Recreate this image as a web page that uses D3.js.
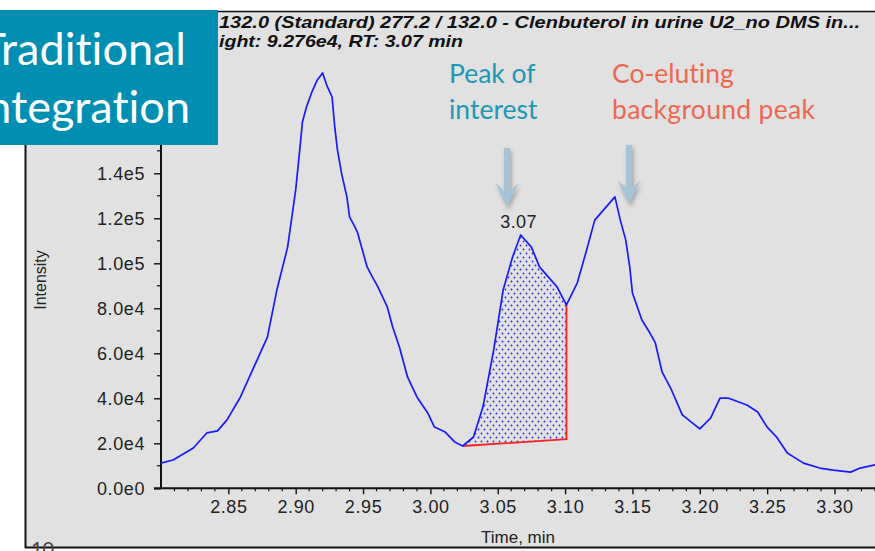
<!DOCTYPE html>
<html>
<head>
<meta charset="utf-8">
<script src="https://cdn.jsdelivr.net/npm/d3@7/dist/d3.min.js"></script>
<style>
  html, body { margin: 0; padding: 0; background: #ffffff; }
  svg { display: block; }
  text { font-variant-ligatures: none; font-feature-settings: "liga" 0, "clig" 0; }
</style>
</head>
<body>
<svg id="chart" width="875" height="551"></svg>
<script>
// Chromatogram of the 277.2 / 132.0 transition (retention time in minutes vs intensity)
const times = [
  2.800, 2.809, 2.824, 2.834, 2.842, 2.849, 2.859, 2.868, 2.879, 2.886,
  2.894, 2.900, 2.903, 2.905, 2.908, 2.912, 2.916, 2.920, 2.923, 2.927,
  2.929, 2.931, 2.934, 2.938, 2.940, 2.944, 2.946, 2.953, 2.957, 2.961,
  2.968, 2.972, 2.977, 2.983, 2.990, 2.998, 3.003, 3.011, 3.018, 3.024,
  3.032, 3.039, 3.047, 3.054, 3.061, 3.067, 3.075, 3.081, 3.094, 3.101,
  3.109, 3.116, 3.122, 3.137, 3.141, 3.145, 3.148, 3.150, 3.157, 3.163,
  3.167, 3.172, 3.179, 3.187, 3.200, 3.208, 3.215, 3.221, 3.235, 3.243,
  3.250, 3.257, 3.265, 3.277, 3.289, 3.299, 3.312, 3.319, 3.330, 3.345
];
const intensity = [
  11200, 12600, 17900, 24600, 25500, 30400, 40600, 52600, 67200, 88100,
  107200, 132600, 150400, 162800, 169500, 176100, 181500, 184600, 179200, 173900,
  160600, 150400, 140100, 129500, 120600, 116100, 113500, 98400, 93900, 89500,
  80600, 71700, 62800, 49500, 40600, 33500, 27200, 25000, 20600, 18800,
  22800, 36100, 61500, 88100, 102800, 112600, 107200, 98400, 89500, 81500,
  91200, 105900, 119200, 129500, 119200, 110400, 98400, 86800, 74800, 69000,
  64600, 51700, 43700, 32600, 26400, 31200, 40100, 40100, 37000, 33900,
  27200, 22800, 15700, 11200, 9000, 8100, 7200, 9000, 10400, 11000
];

// Integrated region of the peak of interest and its baseline
const integrationRange = [3.024, 3.101];
const baselineValues = [18800, 21800];
const apexTime = 3.067;
const apexLabel = "3.07";

// Axis ticks
const xTickValues = [2.85, 2.90, 2.95, 3.00, 3.05, 3.10, 3.15, 3.20, 3.25, 3.30];
const yTickValues = [0, 20000, 40000, 60000, 80000, 100000, 120000, 140000, 160000, 180000];

// Header text of the trace
const headerLines = [
  "132.0 (Standard) 277.2 / 132.0 - Clenbuterol in urine U2_no DMS in...",
  "ight: 9.276e4, RT: 3.07 min"
];

const data = times.map((t, i) => ({ t, v: intensity[i] }));

const svg = d3.select("#chart");
const axisFont = "'Liberation Sans', Arial, sans-serif";
const calloutFont = "Lato, 'Open Sans', sans-serif";

// Scales
const x = d3.scaleLinear().domain([2.80, 3.345]).range([161, 895.1]);
const y = d3.scaleLinear().domain([0, 200000]).range([488.3, 38.3]);

// Panel background
svg.append("rect")
  .attr("x", 25).attr("y", 11).attr("width", 870).attr("height", 536)
  .attr("fill", "#e1e1e1");
svg.append("line").attr("x1", 25).attr("x2", 875).attr("y1", 11.5).attr("y2", 11.5)
  .attr("stroke", "#111").attr("stroke-width", 1.5);
svg.append("line").attr("x1", 25.5).attr("x2", 25.5).attr("y1", 11).attr("y2", 548)
  .attr("stroke", "#111").attr("stroke-width", 2);
svg.append("line").attr("x1", 25).attr("x2", 875).attr("y1", 547.5).attr("y2", 547.5)
  .attr("stroke", "#111").attr("stroke-width", 2);

// Header lines
svg.append("text")
  .attr("x", 219).attr("y", 28)
  .attr("font-family", axisFont).attr("font-size", 17)
  .attr("font-weight", "bold").attr("font-style", "italic")
  .attr("fill", "#111")
  .attr("textLength", 641).attr("lengthAdjust", "spacingAndGlyphs")
  .text(headerLines[0]);
svg.append("text")
  .attr("x", 219).attr("y", 47)
  .attr("font-family", axisFont).attr("font-size", 17)
  .attr("font-weight", "bold").attr("font-style", "italic")
  .attr("fill", "#111")
  .attr("textLength", 244).attr("lengthAdjust", "spacingAndGlyphs")
  .text(headerLines[1]);

// Dotted fill pattern for the integrated area
const defs = svg.append("defs");
const pat = defs.append("pattern")
  .attr("id", "dots").attr("patternUnits", "userSpaceOnUse")
  .attr("width", 6).attr("height", 8);
pat.append("circle").attr("cx", 1.5).attr("cy", 1.5).attr("r", 0.9).attr("fill", "#2a2aff");
pat.append("circle").attr("cx", 4.5).attr("cy", 5.5).attr("r", 0.9).attr("fill", "#2a2aff");

const shadow = defs.append("filter").attr("id", "shadow")
  .attr("x", "-50%").attr("y", "-20%").attr("width", "200%").attr("height", "150%");
shadow.append("feDropShadow")
  .attr("dx", 1.5).attr("dy", 3).attr("stdDeviation", 2)
  .attr("flood-color", "#555").attr("flood-opacity", 0.45);

// Integrated area: curve between the limits, closed by the baseline
const inRange = data.filter(d => d.t >= integrationRange[0] && d.t <= integrationRange[1]);
const baseAt = t => baselineValues[0] +
  (baselineValues[1] - baselineValues[0]) * (t - integrationRange[0]) / (integrationRange[1] - integrationRange[0]);
svg.append("path")
  .datum(inRange)
  .attr("d", d3.area()
    .x(d => x(d.t))
    .y0(d => y(baseAt(d.t)))
    .y1(d => y(d.v)))
  .attr("fill", "url(#dots)");

// Axes (ticks and labels)
const sciFormat = v => {
  if (v === 0) return "0.0e0";
  const e = Math.floor(Math.log10(v));
  return (v / Math.pow(10, e)).toFixed(1) + "e" + e;
};

const gx = svg.append("g").attr("transform", "translate(0,488.3)");
gx.call(d3.axisBottom(x).tickValues(xTickValues).tickFormat(d3.format(".2f"))
  .tickSize(6).tickPadding(6).tickSizeOuter(0));
const xMinor = d3.range(281, 335).map(v => v / 100).filter(v => Math.round(v * 100) % 5 !== 0);
gx.append("g").selectAll("line").data(xMinor).join("line")
  .attr("x1", d => x(d)).attr("x2", d => x(d)).attr("y1", 0).attr("y2", 3)
  .attr("stroke", "#111").attr("stroke-width", 1.2);

const gy = svg.append("g").attr("transform", "translate(161,0)");
gy.call(d3.axisLeft(y).tickValues(yTickValues).tickFormat(sciFormat)
  .tickSize(7).tickPadding(9).tickSizeOuter(0));
const yMinor = d3.range(10000, 200000, 20000);
gy.append("g").selectAll("line").data(yMinor).join("line")
  .attr("x1", -4).attr("x2", 0).attr("y1", d => y(d)).attr("y2", d => y(d))
  .attr("stroke", "#111").attr("stroke-width", 1.2);

[gx, gy].forEach(g => {
  g.select(".domain").remove();
  g.selectAll(".tick line").attr("stroke", "#111").attr("stroke-width", 1.4);
  g.selectAll(".tick text")
    .attr("font-family", axisFont).attr("font-size", 18)
    .attr("letter-spacing", "0.6px").attr("fill", "#222");
});

// Axis lines
svg.append("line").attr("x1", 161).attr("x2", 161).attr("y1", 40).attr("y2", 489)
  .attr("stroke", "#111").attr("stroke-width", 2);
svg.append("line").attr("x1", 154).attr("x2", 875).attr("y1", 488.3).attr("y2", 488.3)
  .attr("stroke", "#111").attr("stroke-width", 2);

// Axis titles
svg.append("text")
  .attr("x", 518).attr("y", 543).attr("text-anchor", "middle")
  .attr("font-family", axisFont).attr("font-size", 17).attr("fill", "#222")
  .text("Time, min");
svg.append("text")
  .attr("transform", "translate(46,280) rotate(-90)").attr("text-anchor", "middle")
  .attr("font-family", axisFont).attr("font-size", 16).attr("fill", "#222")
  .text("Intensity");

// Baseline and drop line of the integration
svg.append("path")
  .attr("d", d3.line()([
    [x(integrationRange[0]), y(baselineValues[0])],
    [x(integrationRange[1]), y(baselineValues[1])],
    [x(integrationRange[1]), y(inRange[inRange.length - 1].v)]
  ]))
  .attr("fill", "none").attr("stroke", "#ff2020").attr("stroke-width", 1.8);

// Trace
svg.append("path")
  .datum(data)
  .attr("d", d3.line().x(d => x(d.t)).y(d => y(d.v)))
  .attr("fill", "none").attr("stroke", "#1a1aff").attr("stroke-width", 1.7)
  .attr("stroke-linejoin", "round");

// Apex label
const apex = data.find(d => d.t === apexTime);
svg.append("text")
  .attr("x", x(apex.t) - 2).attr("y", y(apex.v) - 7).attr("text-anchor", "middle")
  .attr("font-family", axisFont).attr("font-size", 18).attr("letter-spacing", "0.4px")
  .attr("fill", "#222")
  .text(apexLabel);

// Callout arrows
const arrow = (cx, top, headY, tip) => d3.line()([
  [cx - 3, top], [cx + 3, top], [cx + 3, headY], [cx + 11.5, headY - 8],
  [cx, tip], [cx - 11.5, headY - 8], [cx - 3, headY]
]) + "Z";
svg.append("path").attr("d", arrow(507, 148, 191, 207))
  .attr("fill", "#a6c3d7").attr("filter", "url(#shadow)");
svg.append("path").attr("d", arrow(629, 145, 188, 204))
  .attr("fill", "#a6c3d7").attr("filter", "url(#shadow)");

// Callout texts
const peakText = svg.append("text")
  .attr("font-family", calloutFont).attr("font-size", 26.5).attr("fill", "#1b98b6");
peakText.append("tspan").attr("x", 449).attr("y", 83).text("Peak of");
peakText.append("tspan").attr("x", 449).attr("y", 119).text("interest");

const bgText = svg.append("text")
  .attr("font-family", calloutFont).attr("font-size", 26.5).attr("fill", "#f0674f");
bgText.append("tspan").attr("x", 612).attr("y", 83).text("Co-eluting");
bgText.append("tspan").attr("x", 612).attr("y", 119)
  .attr("textLength", 203).attr("lengthAdjust", "spacing").text("background peak");

// Title box
svg.append("rect").attr("x", 0).attr("y", 10).attr("width", 218).attr("height", 135)
  .attr("fill", "#008fb2");
const title = svg.append("text")
  .attr("font-family", calloutFont).attr("font-size", 45).attr("fill", "#ffffff")
  .attr("text-anchor", "end");
title.append("tspan").attr("x", 186).attr("y", 65).text("Traditional");
title.append("tspan").attr("x", 190).attr("y", 123).text("Integration");

// Page number peeking below the panel
svg.append("text")
  .attr("x", 31).attr("y", 556)
  .attr("font-family", calloutFont).attr("font-size", 20).attr("fill", "#444")
  .text("10");
</script>
</body>
</html>
